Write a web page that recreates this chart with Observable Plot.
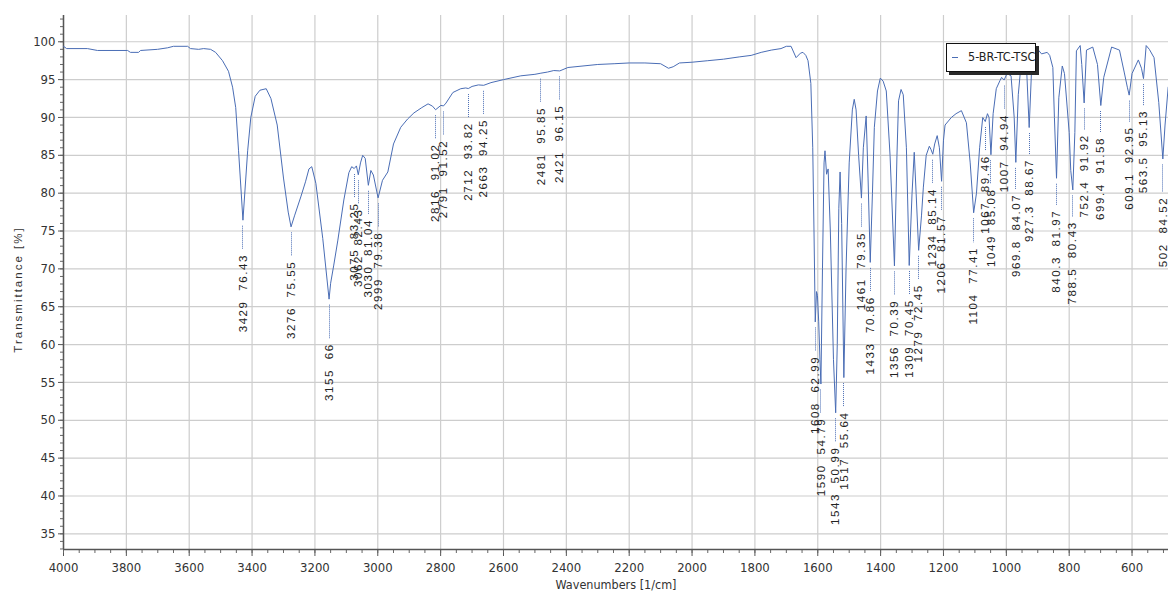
<!DOCTYPE html>
<html><head><meta charset="utf-8">
<script src="https://cdn.jsdelivr.net/npm/d3@7"></script>
<script src="https://cdn.jsdelivr.net/npm/@observablehq/plot@0.6"></script>
<style>
html,body{margin:0;padding:0;background:#fff;}
#wrap{position:relative;width:1168px;height:597px;overflow:hidden;}
#legend{position:absolute;left:946px;top:43px;width:88px;height:27px;border:1px solid #111;background:#fff;box-shadow:3px 3px 0 #2a2a2a;font-family:"Liberation Sans Narrow","DejaVu Sans Condensed",sans-serif;font-size:12.5px;color:#222;box-sizing:content-box;}
#legend .sw{position:absolute;left:5px;top:13px;width:6px;height:1px;background:#4a6db5;}
#legend .tx{position:absolute;left:21px;top:5px;white-space:nowrap;}
g[aria-description="peak labels"] text{letter-spacing:1.6px;}
g[aria-description="y title"] text{letter-spacing:2px;}
</style></head><body><div id="wrap"><div id="legend"><div class="sw"></div><div class="tx"></div></div></div>
<script>
const seriesName = "5-BR-TC-TSC";
const xTitle = "Wavenumbers [1/cm]";
const yTitle = "Transmittance [%]";

const wavenumbers = [4000,3990,3924,3892,3796,3787,3761,3755,3701,3669,3650,3605,3596,3570,3554,3532,3516,3494,3475,3462,3452,3443,3429,3414,3404,3390,3375,3355,3340,3320,3300,3285,3276,3265,3245,3230,3219,3210,3197,3175,3155,3150,3140,3127,3108,3092,3083,3075,3068,3062,3055,3048,3040,3030,3022,3014,2999,2985,2968,2950,2927,2905,2885,2860,2840,2826,2816,2805,2799,2791,2783,2761,2736,2720,2712,2700,2680,2663,2640,2600,2545,2500,2481,2460,2440,2421,2395,2300,2248,2200,2150,2100,2075,2060,2040,2000,1950,1900,1850,1812,1780,1748,1717,1700,1685,1669,1655,1647,1638,1631,1622,1616,1612,1608,1604,1601,1597,1593,1590,1585,1580,1577,1572,1567,1560,1550,1543,1538,1533,1529,1524,1517,1510,1500,1490,1484,1478,1470,1461,1455,1446,1440,1433,1426,1420,1410,1401,1392,1382,1370,1356,1348,1343,1335,1328,1318,1309,1300,1293,1287,1279,1270,1264,1255,1245,1240,1234,1228,1220,1213,1206,1200,1195,1175,1160,1143,1127,1115,1104,1095,1085,1075,1067,1060,1055,1049,1042,1032,1020,1015,1007,998,985,975,969.8,962,955,945,935,927.3,920,910,900,888,870,862,852,847,840.3,833,822,815,800,795,788.5,782,777,765,760,752.4,745,725,710,699.4,690,665,640,625,615,609.1,600,580,570,563.5,555,545,530,515,502,495,485];
const transmittance = [99.4,99.1,99.1,98.85,98.85,98.6,98.6,98.85,99.0,99.2,99.4,99.4,99.1,99.0,99.1,99.0,98.6,97.5,96.1,94.0,91.3,85.6,76.43,85.6,90.0,92.8,93.6,93.8,92.5,89,82,77.5,75.55,77,79.5,81.5,83.2,83.5,81.3,74,66.0,68.1,70.5,73.8,79.1,82.7,83.5,83.25,83.6,82.43,84.0,85.0,84.6,81.04,83.0,82.4,79.38,81.7,82.8,86.5,88.7,89.8,90.6,91.3,91.8,91.5,91.02,91.4,91.6,91.52,91.9,93.3,93.8,93.9,93.82,94.1,94.3,94.25,94.6,95.0,95.5,95.7,95.85,96.0,96.2,96.15,96.6,97.0,97.1,97.2,97.2,97.1,96.5,96.7,97.2,97.3,97.5,97.7,98.0,98.2,98.6,98.9,99.1,99.4,99.4,97.9,98.5,98.6,98.2,97.5,94.5,86,75,62.99,67,66.5,63,58,54.79,70,84,85.6,82.5,83.2,75,58,50.99,60,78,82.8,76,55.64,70,84,91,92.4,91,85,79.35,86,90.2,82,70.86,80,88.7,93.5,95.2,94.8,93.5,85,70.39,85,92.2,93.7,93.0,86,70.45,80,85.4,80,72.45,77,80.8,85,86.2,85.8,85.14,86.5,87.6,86,81.57,87,89,90.0,90.5,90.9,89.3,84,77.41,80,86,90,89.46,90.5,90.0,85.08,90.5,93.8,94.9,95.3,94.94,95.8,95.5,90,84.07,93,96.2,98.8,96,88.67,96,98.9,99.0,98.4,98.6,98.2,96.6,90,81.97,92.6,96.8,95.8,88,83,80.43,88,98.8,99.5,97,91.92,98.9,99.3,97,91.58,95.3,99.3,98.9,96,94,92.95,95.8,97.6,96.5,95.13,99.5,99,97.9,92,84.52,89,94];

const peakWavenumbers = [3429,3276,3155,3075,3062,3030,2999,2816,2791,2712,2663,2481,2421,1608,1590,1543,1517,1461,1433,1356,1309,1279,1234,1206,1104,1067,1049,1007,969.8,927.3,840.3,788.5,752.4,699.4,609.1,563.5,502];
const peakValues = [76.43,75.55,66,83.25,82.43,81.04,79.38,91.02,91.52,93.82,94.25,95.85,96.15,62.99,54.79,50.99,55.64,79.35,70.86,70.39,70.45,72.45,85.14,81.57,77.41,89.46,85.08,94.94,84.07,88.67,81.97,80.43,91.92,91.58,92.95,95.13,84.52];

const xTicks = [4000,3800,3600,3400,3200,3000,2800,2600,2400,2200,2000,1800,1600,1400,1200,1000,800,600];
const xMinorTicks = d3.range(4000, 484, -50);
const yTicks = [35,40,45,50,55,60,65,70,75,80,85,90,95,100];
const yMinorTicks = d3.range(33, 104, 1);

const lineColor = "#4a6db5";
const tickFont = '"Liberation Sans Narrow","DejaVu Sans Condensed",sans-serif';
const labelFont = '"Liberation Sans",Arial,sans-serif';
const labelFontSize = 11.5, labelSpacing = 1.6, labelOffset = 73;

const spectrum = wavenumbers.map((w, i) => ({w, t: transmittance[i]}));
const peaks = peakWavenumbers.map((w, i) => ({w, t: peakValues[i], label: `${w}\u00a0\u00a0${peakValues[i]}`}));

const ctx = document.createElement("canvas").getContext("2d");
ctx.font = `${labelFontSize}px ${labelFont}`;
const textLen = s => ctx.measureText(s).width + s.length * labelSpacing;

function leaders(index, scales) {
  const g = d3.create("svg:g").attr("aria-label", "peak leaders")
    .attr("stroke", lineColor).attr("stroke-width", 1).attr("stroke-dasharray", "1 1");
  for (const p of peaks) {
    const px = Math.round(scales.x(p.w)) + 0.5;
    const py = scales.y(p.t);
    const end = py + labelOffset - textLen(p.label) / 2 - 4;
    if (end > py + 6) g.append("line").attr("x1", px).attr("x2", px).attr("y1", py + 6).attr("y2", end);
  }
  return g.node();
}

const chart = Plot.plot({
  width: 1168, height: 597,
  marginLeft: 63, marginRight: 0, marginTop: 15, marginBottom: 48,
  x: {domain: [4000, 484]},
  y: {domain: [32.93, 103.47]},
  style: {background: "#fff", fontFamily: tickFont},
  marks: [
    Plot.gridX({ticks: xTicks, stroke: "#cdcdcd", strokeOpacity: 1, strokeWidth: 1.2}),
    Plot.gridY({ticks: yTicks, stroke: "#cdcdcd", strokeOpacity: 1, strokeWidth: 1.2}),
    Plot.axisX({ticks: xTicks, tickSize: 7, tickPadding: 6, tickFormat: d => String(d), fontSize: 13, color: "#333", label: null, stroke: "#555"}),
    Plot.axisX({ticks: xMinorTicks, tickSize: 4, tickFormat: () => "", label: null, stroke: "#666"}),
    Plot.axisY({ticks: yTicks, tickSize: 5, tickPadding: 3, tickFormat: d => String(d), fontSize: 13, color: "#333", label: null, stroke: "#555"}),
    Plot.axisY({ticks: yMinorTicks, tickSize: 3, tickFormat: () => "", label: null, stroke: "#666"}),
    Plot.ruleX([4000], {stroke: "#555", strokeWidth: 1.5}),
    Plot.ruleY([32.93], {stroke: "#555", strokeWidth: 1.5}),
    Plot.line(spectrum, {x: "w", y: "t", stroke: lineColor, strokeWidth: 1}),
    leaders,
    Plot.text(peaks, {x: "w", y: "t", text: "label", rotate: -90, dy: labelOffset, textAnchor: "middle", lineAnchor: "middle", fontSize: labelFontSize, fontFamily: labelFont, fill: "#222", ariaDescription: "peak labels"}),
    Plot.text([xTitle], {frameAnchor: "bottom", dy: 39, fontSize: 12.5, fill: "#333", fontFamily: tickFont}),
    Plot.text([yTitle], {frameAnchor: "left", dx: -45, dy: 7, rotate: -90, textAnchor: "middle", lineAnchor: "middle", fontSize: 11.5, fill: "#333", fontFamily: labelFont, ariaDescription: "y title"})
  ]
});
d3.select(chart).selectAll('g[aria-description="peak labels"] text').style("letter-spacing", labelSpacing + "px");
d3.select(chart).selectAll('g[aria-description="y title"] text').style("letter-spacing", "2px");
document.getElementById("wrap").prepend(chart);
document.querySelector("#legend .tx").textContent = seriesName;
</script></body></html>
